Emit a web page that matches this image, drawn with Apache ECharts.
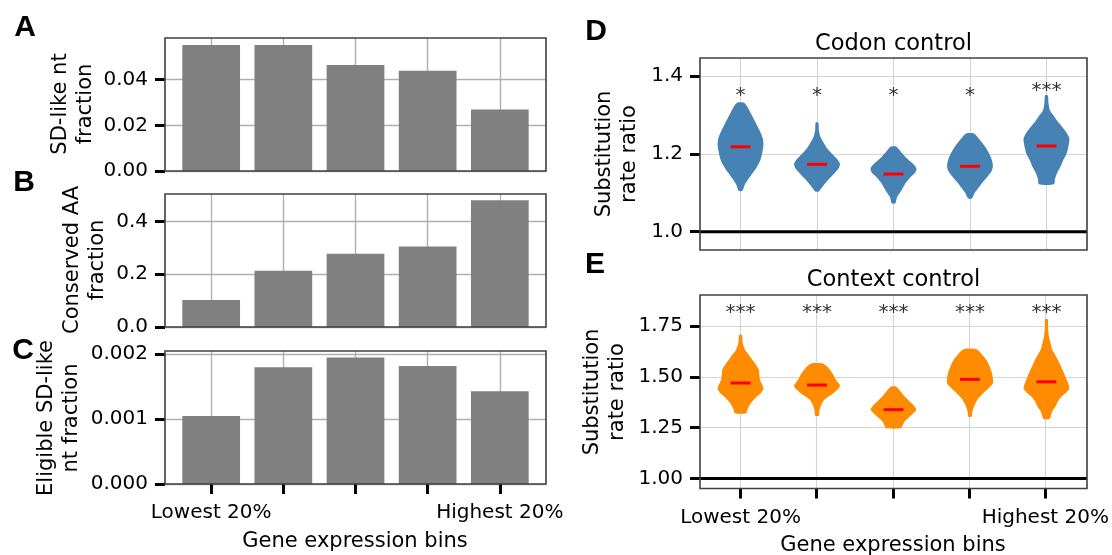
<!DOCTYPE html>
<html>
<head>
<meta charset="utf-8">
<script src="https://cdn.jsdelivr.net/npm/echarts@6/dist/echarts.min.js"></script>
<style>
  html, body { margin: 0; padding: 0; background: #fff; }
  #chart { width: 1112px; height: 555px; }
</style>
</head>
<body>
<div id="chart"></div>
<script>
// ---- data ----
const bins = ['Lowest 20%', '', '', '', 'Highest 20%'];
const sdLikeFraction = [0.0552, 0.0552, 0.0465, 0.0439, 0.0270];
const conservedAAFraction = [0.102, 0.213, 0.278, 0.305, 0.480];
const eligibleSDFraction = [0.00105, 0.00180, 0.00195, 0.00182, 0.00143];

// violin outlines per bin: [substitution rate ratio, relative density]
const codonViolins = [
  [[1.331,0.15],[1.318,0.32],[1.300,0.48],[1.280,0.66],[1.260,0.83],[1.240,0.97],[1.225,1.00],[1.210,0.97],[1.195,0.92],[1.180,0.84],[1.165,0.70],[1.150,0.52],[1.135,0.34],[1.120,0.18],[1.105,0.08]],
  [[1.280,0.06],[1.262,0.08],[1.245,0.14],[1.230,0.27],[1.215,0.43],[1.200,0.65],[1.185,0.90],[1.175,1.00],[1.165,0.96],[1.150,0.76],[1.135,0.52],[1.120,0.30],[1.110,0.17],[1.103,0.08]],
  [[1.218,0.13],[1.205,0.32],[1.192,0.52],[1.178,0.78],[1.163,1.00],[1.152,0.95],[1.141,0.76],[1.128,0.57],[1.115,0.43],[1.100,0.28],[1.088,0.15],[1.073,0.08]],
  [[1.252,0.17],[1.240,0.37],[1.227,0.55],[1.210,0.75],[1.190,0.92],[1.170,1.00],[1.155,0.94],[1.141,0.76],[1.128,0.57],[1.115,0.40],[1.100,0.21],[1.085,0.08]],
  [[1.350,0.06],[1.330,0.09],[1.312,0.15],[1.300,0.29],[1.286,0.45],[1.270,0.67],[1.255,0.87],[1.239,1.00],[1.220,0.96],[1.201,0.88],[1.185,0.74],[1.167,0.61],[1.150,0.46],[1.135,0.37],[1.122,0.33]]
];
const codonMedians = [1.218, 1.173, 1.148, 1.168, 1.220];
const codonStars = ['*', '*', '*', '*', '***'];

const contextViolins = [
  [[1.706,0.06],[1.670,0.09],[1.632,0.20],[1.605,0.38],[1.583,0.52],[1.555,0.70],[1.534,0.80],[1.510,0.82],[1.485,0.85],[1.460,0.95],[1.440,1.00],[1.420,0.88],[1.403,0.70],[1.380,0.52],[1.362,0.40],[1.340,0.30],[1.321,0.25]],
  [[1.567,0.22],[1.550,0.45],[1.534,0.57],[1.510,0.72],[1.485,0.83],[1.465,0.97],[1.455,1.00],[1.440,0.92],[1.419,0.70],[1.400,0.45],[1.385,0.30],[1.370,0.22],[1.350,0.14],[1.330,0.10],[1.309,0.08]],
  [[1.452,0.12],[1.430,0.30],[1.403,0.50],[1.375,0.75],[1.355,0.92],[1.341,1.00],[1.325,0.90],[1.304,0.70],[1.285,0.52],[1.272,0.44],[1.258,0.38],[1.247,0.33]],
  [[1.637,0.26],[1.620,0.45],[1.600,0.60],[1.583,0.72],[1.550,0.86],[1.518,0.96],[1.490,1.00],[1.469,1.00],[1.445,0.82],[1.419,0.57],[1.395,0.37],[1.370,0.24],[1.345,0.14],[1.320,0.09],[1.304,0.07]],
  [[1.783,0.06],[1.740,0.07],[1.698,0.11],[1.665,0.18],[1.632,0.26],[1.600,0.42],[1.567,0.57],[1.535,0.70],[1.501,0.83],[1.470,0.94],[1.444,1.00],[1.425,0.88],[1.403,0.65],[1.380,0.50],[1.353,0.39],[1.330,0.25],[1.312,0.20],[1.293,0.13]]
];
const contextMedians = [1.470, 1.460, 1.339, 1.488, 1.476];
const contextStars = ['***', '***', '***', '***', '***'];

const baselineRatio = 1.0;

// ---- layout / style ----
const FONT = '"DejaVu Sans", sans-serif';
const LETTER_FONT = 'bold 30px "Liberation Sans", Arial, sans-serif';
const LABEL_FONT = '21px ' + FONT;
const grids = [], xAxes = [], yAxes = [], series = [], graphics = [];

function addGrid(box, xAxis, yAxis) {
  grids.push({ left: box.left, top: box.top, width: box.width, height: box.height, containLabel: false });
  const gi = grids.length - 1;
  xAxes.push(Object.assign({ gridIndex: gi }, xAxis));
  yAxes.push(Object.assign({ gridIndex: gi }, yAxis));
  return gi;
}
const hiddenAxis = (min, max) => ({ type: 'value', min, max, show: false, axisLine: { onZero: false } });

function panel(p) {
  const frame = addGrid(p, hiddenAxis(p.x[0], p.x[1]), hiddenAxis(p.y[0], p.y[1]));
  const pxX = p.width / (p.x[1] - p.x[0]);
  const pxY = p.height / (p.y[1] - p.y[0]);
  const nb = bins.length - 1;
  const split = { show: true, lineStyle: { color: p.gridColor, width: p.gridWidth } };
  // vertical grid lines + bin ticks
  addGrid({ left: p.left + (0 - p.x[0]) * pxX, top: p.top, width: nb * pxX, height: p.height },
    { type: 'value', min: 0, max: nb, interval: 1, position: 'bottom',
      axisLine: { show: false, onZero: false },
      axisTick: { show: !!p.xLabels, length: 10, lineStyle: { color: '#000', width: 3 } },
      axisLabel: { show: !!p.xLabels, margin: p.xMargin, fontSize: 20, fontFamily: FONT, color: '#000',
                   formatter: v => bins[Math.round(v)] || '' },
      splitLine: split },
    hiddenAxis(p.y[0], p.y[1]));
  // horizontal grid lines + value ticks
  const [lo, hi, step] = p.ticks;
  addGrid({ left: p.left, width: p.width, top: p.top + (p.y[1] - hi) * pxY, height: (hi - lo) * pxY },
    hiddenAxis(p.x[0], p.x[1]),
    { type: 'value', min: lo, max: hi, interval: step, position: 'left',
      axisLine: { show: false, onZero: false },
      axisTick: { show: true, length: 10, lineStyle: { color: '#000', width: 3 } },
      axisLabel: { margin: 17, fontSize: 20, fontFamily: FONT, color: '#000',
                   formatter: v => v.toFixed(p.digits) },
      splitLine: split });
  // frame
  graphics.push({ type: 'rect', z: 100, silent: true,
    shape: { x: p.left, y: p.top, width: p.width, height: p.height },
    style: { fill: 'rgba(0,0,0,0)', stroke: '#404040', lineWidth: 1.6 } });
  return { frame, pxX, pxY };
}

function text(x, y, str, o = {}) {
  graphics.push({ type: 'text', x, y, z: 100, silent: true, rotation: o.rotate ? Math.PI / 2 : 0,
    style: { text: str, fill: o.color || '#000', font: o.font || LABEL_FONT,
             align: 'center', verticalAlign: 'middle', lineHeight: o.lh || 25 } });
}

// ---- bar panels A, B, C ----
const barX = [-0.64, 4.64];
function barPanel(top, values, yMax, ticks, digits, xLabels) {
  const p = panel({ left: 165, top, width: 381, height: 133, x: barX, y: [0, yMax], ticks, digits,
                    gridColor: '#b0b0b0', gridWidth: 1.4, xLabels, xMargin: 19 });
  series.push({ type: 'bar', xAxisIndex: p.frame, yAxisIndex: p.frame, barWidth: 0.8 * p.pxX,
                data: values.map((v, i) => [i, v]), itemStyle: { color: '#808080' }, silent: true, z: 2 });
}
barPanel(38, sdLikeFraction, 0.0583, [0, 0.04, 0.02], 2, false);
barPanel(194, conservedAAFraction, 0.504, [0, 0.4, 0.2], 1, false);
barPanel(351, eligibleSDFraction, 0.00205, [0, 0.002, 0.001], 3, true);

// ---- violin panels D, E ----
const violinX = [-0.53, 4.53];
const HALF = 0.30;      // half width of the widest violin, in bin units
const MEDIAN_HALF = 0.13;
function violinPanel(top, height, yRange, ticks, digits, profiles, medians, stars, starLevel, color, xLabels) {
  const p = panel({ left: 700, top, width: 387, height, x: violinX, y: yRange, ticks, digits,
                    gridColor: '#d4d4d4', gridWidth: 1.1, xLabels, xMargin: 19 });
  series.push({
    type: 'custom', xAxisIndex: p.frame, yAxisIndex: p.frame, z: 3, silent: true, clip: false,
    data: medians.map((m, i) => [i, m]),
    renderItem: (params, api) => {
      const i = params.dataIndex;
      const x = api.value(0);
      const prof = profiles[i];
      const right = prof.map(([v, d]) => api.coord([x + d * HALF, v]));
      const left = prof.slice().reverse().map(([v, d]) => api.coord([x - d * HALF, v]));
      const a = api.coord([x - MEDIAN_HALF, api.value(1)]);
      const b = api.coord([x + MEDIAN_HALF, api.value(1)]);
      const s = api.coord([x, starLevel]);
      const lift = stars[i].length > 1 ? 4.5 : 0;
      return { type: 'group', children: [
        { type: 'polygon', shape: { points: right.concat(left), smooth: 0.25 }, style: { fill: color } },
        { type: 'line', shape: { x1: a[0], y1: a[1], x2: b[0], y2: b[1] }, style: { stroke: '#ff0000', lineWidth: 3 } },
        { type: 'text', x: s[0], y: s[1] - lift,
          style: { text: stars[i], fill: '#333', font: '20px ' + FONT, align: 'center', verticalAlign: 'middle' } }
      ] };
    }
  });
  series.push({ type: 'line', xAxisIndex: p.frame, yAxisIndex: p.frame, z: 4, silent: true,
                symbol: 'none', data: [[violinX[0], baselineRatio], [violinX[1], baselineRatio]],
                lineStyle: { color: '#000', width: 3 } });
}
violinPanel(58, 192, [0.953, 1.446], [1.0, 1.4, 0.2], 1, codonViolins, codonMedians, codonStars, 1.350, '#4682b4', false);
violinPanel(295, 193.5, [0.951, 1.903], [1.0, 1.75, 0.25], 2, contextViolins, contextMedians, contextStars, 1.794, '#ff8c00', true);

// ---- text ----
text(25, 28, 'A', { font: LETTER_FONT });
text(24, 183, 'B', { font: LETTER_FONT });
text(23, 351, 'C', { font: LETTER_FONT });
text(596, 32, 'D', { font: LETTER_FONT });
text(595, 265, 'E', { font: LETTER_FONT });

text(73, 104, 'SD-like nt\nfraction', { rotate: true });
text(85, 260, 'Conserved AA\nfraction', { rotate: true });
text(59, 418, 'Eligible SD-like\nnt fraction', { rotate: true });
text(617, 154, 'Substitution\nrate ratio', { rotate: true });
text(605, 392, 'Substitution\nrate ratio', { rotate: true });

const TITLE_FONT = '22.5px ' + FONT;
text(893.5, 44, 'Codon control', { font: TITLE_FONT });
text(893.5, 280, 'Context control', { font: TITLE_FONT });
text(355, 542, 'Gene expression bins');
text(893, 546, 'Gene expression bins');

const chart = echarts.init(document.getElementById('chart'), null, { renderer: 'canvas', width: 1112, height: 555 });
chart.setOption({
  animation: false,
  backgroundColor: '#fff',
  textStyle: { fontFamily: FONT },
  grid: grids, xAxis: xAxes, yAxis: yAxes, series, graphic: graphics
});
</script>
</body>
</html>
